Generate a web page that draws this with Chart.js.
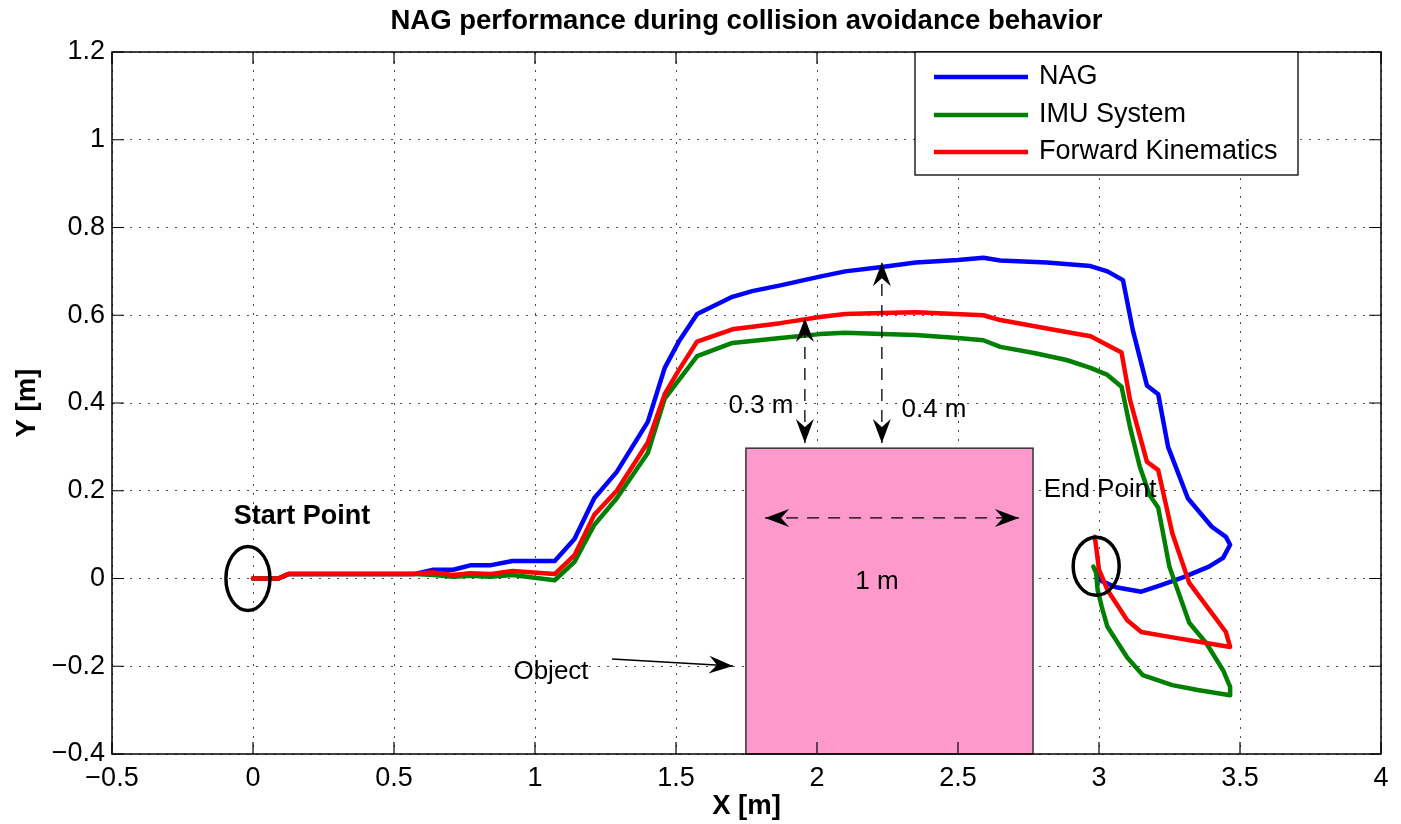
<!DOCTYPE html>
<html>
<head>
<meta charset="utf-8">
<script src="https://cdn.jsdelivr.net/npm/chart.js@4/dist/chart.umd.min.js"></script>
<style>
  body { margin: 0; background: #fff; }
  canvas { display: block; }
</style>
</head>
<body>
<canvas id="traj" width="1401" height="824"></canvas>
<script>
// axis ticks
const xTicks = [-0.5, 0, 0.5, 1, 1.5, 2, 2.5, 3, 3.5, 4];
const xTickLabels = ["\u22120.5", "0", "0.5", "1", "1.5", "2", "2.5", "3", "3.5", "4"];
const yTicks = [-0.4, -0.2, 0, 0.2, 0.4, 0.6, 0.8, 1, 1.2];
const yTickLabels = ["\u22120.4", "\u22120.2", "0", "0.2", "0.4", "0.6", "0.8", "1", "1.2"];

const seriesNames = ["NAG", "IMU System", "Forward Kinematics"];

// NAG trajectory
const nagX = [0, 0.09, 0.125, 0.57, 0.64, 0.71, 0.77, 0.84, 0.92, 1.07, 1.14, 1.21, 1.29, 1.40, 1.46, 1.51, 1.575, 1.70, 1.77, 1.87, 2.01, 2.10, 2.23, 2.35, 2.50, 2.59, 2.65, 2.815, 2.97, 3.03, 3.085, 3.12, 3.17, 3.21, 3.245, 3.315, 3.40, 3.45, 3.465, 3.44, 3.39, 3.30, 3.22, 3.15, 3.06, 3.00, 2.99];
const nagY = [0, 0, 0.01, 0.01, 0.02, 0.02, 0.03, 0.03, 0.04, 0.04, 0.09, 0.183, 0.243, 0.357, 0.48, 0.54, 0.603, 0.642, 0.655, 0.668, 0.688, 0.70, 0.71, 0.72, 0.726, 0.731, 0.725, 0.72, 0.712, 0.70, 0.68, 0.566, 0.44, 0.42, 0.30, 0.183, 0.118, 0.095, 0.077, 0.047, 0.027, 0.003, -0.015, -0.03, -0.02, -0.003, 0.02];

// IMU trajectory
const imuX = [0, 0.09, 0.125, 0.57, 0.64, 0.71, 0.77, 0.84, 0.92, 1.07, 1.14, 1.21, 1.29, 1.40, 1.46, 1.51, 1.575, 1.70, 1.87, 2.01, 2.10, 2.23, 2.35, 2.50, 2.59, 2.65, 2.77, 2.885, 2.97, 3.03, 3.08, 3.11, 3.145, 3.18, 3.21, 3.25, 3.32, 3.38, 3.44, 3.465, 3.465, 3.35, 3.26, 3.155, 3.10, 3.03, 3.01, 2.995, 2.99, 2.98];
const imuY = [0, 0, 0.01, 0.01, 0.008, 0.004, 0.006, 0.004, 0.008, -0.004, 0.038, 0.122, 0.183, 0.286, 0.41, 0.452, 0.507, 0.537, 0.548, 0.557, 0.56, 0.557, 0.555, 0.548, 0.543, 0.528, 0.514, 0.498, 0.48, 0.464, 0.437, 0.345, 0.254, 0.19, 0.161, 0.026, -0.101, -0.147, -0.209, -0.247, -0.266, -0.254, -0.243, -0.22, -0.18, -0.11, -0.065, -0.026, 0.012, 0.027];

// forward kinematics trajectory
const fkX = [0, 0.09, 0.125, 0.57, 0.64, 0.71, 0.77, 0.84, 0.92, 1.07, 1.14, 1.21, 1.29, 1.40, 1.46, 1.51, 1.575, 1.70, 1.87, 2.01, 2.10, 2.23, 2.35, 2.59, 2.65, 2.85, 2.97, 3.08, 3.11, 3.17, 3.21, 3.26, 3.32, 3.40, 3.45, 3.465, 3.38, 3.25, 3.15, 3.10, 3.03, 3.00, 2.99, 2.985];
const fkY = [0, 0, 0.01, 0.01, 0.014, 0.008, 0.012, 0.01, 0.017, 0.01, 0.053, 0.145, 0.20, 0.31, 0.42, 0.475, 0.54, 0.568, 0.582, 0.596, 0.603, 0.605, 0.607, 0.60, 0.589, 0.566, 0.552, 0.515, 0.407, 0.266, 0.247, 0.103, -0.01, -0.079, -0.122, -0.156, -0.147, -0.133, -0.122, -0.095, -0.026, 0.02, 0.072, 0.095];

// obstacle box and marks, in data units
const objectBox = [1.748, 2.766, -0.4, 0.297];
const startMark = [-0.018, 0];
const endMark = [2.99, 0.028];

const FONT = "'Liberation Sans', Arial, Helvetica, sans-serif";
const colors = ["#0000ff", "#008000", "#ff0000"];

function pts(xs, ys) {
    return xs.map((x, i) => ({ x: x, y: ys[i] }));
}

function arrowHead(ctx, x1, y1, x2, y2) {
    // filled matlab style head pointing at x2,y2
    const a = Math.atan2(y2 - y1, x2 - x1);
    const len = 24, half = 9, back = 16;
    ctx.save();
    ctx.translate(x2, y2);
    ctx.rotate(a);
    ctx.beginPath();
    ctx.moveTo(0, 0);
    ctx.lineTo(-len, -half);
    ctx.lineTo(-back, 0);
    ctx.lineTo(-len, half);
    ctx.closePath();
    ctx.fill();
    ctx.restore();
}

function dashedArrow(ctx, x1, y1, x2, y2, both) {
    ctx.save();
    ctx.setLineDash([12, 9]);
    ctx.lineWidth = 1.3;
    ctx.beginPath();
    ctx.moveTo(x1, y1);
    ctx.lineTo(x2, y2);
    ctx.stroke();
    ctx.restore();
    arrowHead(ctx, x1, y1, x2, y2);
    if (both) arrowHead(ctx, x2, y2, x1, y1);
}

const decor = {
    id: "decor",
    beforeDatasetsDraw(chart) {
        const ctx = chart.ctx, xs = chart.scales.x, ys = chart.scales.y;
        const l = xs.getPixelForValue(objectBox[0]), r = xs.getPixelForValue(objectBox[1]);
        const b = ys.getPixelForValue(objectBox[2]), t = ys.getPixelForValue(objectBox[3]);
        ctx.save();
        ctx.fillStyle = "#ff99cc";
        ctx.fillRect(l, t, r - l, b - t);
        ctx.strokeStyle = "#333";
        ctx.lineWidth = 1.5;
        ctx.strokeRect(l, t, r - l, b - t);
        ctx.restore();
    },
    afterDatasetsDraw(chart) {
        const ctx = chart.ctx, xs = chart.scales.x, ys = chart.scales.y;
        const a = chart.chartArea;
        const px = v => xs.getPixelForValue(v), py = v => ys.getPixelForValue(v);
        ctx.save();
        ctx.strokeStyle = "#000";
        ctx.fillStyle = "#000";

        // frame and inward ticks
        ctx.lineWidth = 1.5;
        ctx.strokeRect(a.left, a.top, a.right - a.left, a.bottom - a.top);
        ctx.lineWidth = 1.2;
        ctx.beginPath();
        xTicks.forEach(v => {
            const x = px(v);
            ctx.moveTo(x, a.bottom); ctx.lineTo(x, a.bottom - 12);
            ctx.moveTo(x, a.top); ctx.lineTo(x, a.top + 12);
        });
        yTicks.forEach(v => {
            const y = py(v);
            ctx.moveTo(a.left, y); ctx.lineTo(a.left + 12, y);
            ctx.moveTo(a.right, y); ctx.lineTo(a.right - 12, y);
        });
        ctx.stroke();

        // start / end ellipses
        ctx.lineWidth = 3.5;
        ctx.beginPath();
        ctx.ellipse(px(startMark[0]), py(startMark[1]), 22, 32, 0, 0, Math.PI * 2);
        ctx.stroke();
        ctx.beginPath();
        ctx.ellipse(px(endMark[0]), py(endMark[1]), 23, 29, 0, 0, Math.PI * 2);
        ctx.stroke();

        // clearance arrows
        dashedArrow(ctx, px(1.957), py(0.309), px(1.957), py(0.594), true);
        dashedArrow(ctx, px(2.23), py(0.309), px(2.23), py(0.721), true);
        dashedArrow(ctx, px(1.816), py(0.138), px(2.716), py(0.138), true);

        // object pointer
        ctx.lineWidth = 1.3;
        ctx.beginPath();
        ctx.moveTo(612, 659);
        ctx.lineTo(733, 666);
        ctx.stroke();
        arrowHead(ctx, 612, 659, 733, 666);

        // labels
        ctx.textAlign = "center";
        ctx.textBaseline = "middle";
        ctx.font = "bold 27px " + FONT;
        ctx.fillText("Start Point", 302, 517);
        ctx.font = "26px " + FONT;
        ctx.fillText("End Point", 1100, 490);
        ctx.fillText("0.3 m", 761, 406);
        ctx.fillText("0.4 m", 934, 410);
        ctx.fillText("1 m", 877, 582);
        ctx.fillText("Object", 551, 672);

        // legend
        ctx.fillStyle = "#fff";
        ctx.fillRect(915, 52, 383, 123);
        ctx.lineWidth = 1.3;
        ctx.strokeRect(915, 52, 383, 123);
        ctx.textAlign = "left";
        ctx.font = "27px " + FONT;
        [77, 115, 152].forEach((y, i) => {
            ctx.strokeStyle = colors[i];
            ctx.lineWidth = 4.5;
            ctx.beginPath();
            ctx.moveTo(934, y);
            ctx.lineTo(1028, y);
            ctx.stroke();
            ctx.fillStyle = "#000";
            ctx.fillText(seriesNames[i], 1039, y);
        });

        // titles
        ctx.textAlign = "center";
        ctx.font = "bold 27.5px " + FONT;
        ctx.fillText("NAG performance during collision avoidance behavior", (a.left + a.right) / 2, 21);
        ctx.fillText("X [m]", (a.left + a.right) / 2, 806);
        ctx.translate(27, (a.top + a.bottom) / 2);
        ctx.rotate(-Math.PI / 2);
        ctx.fillText("Y [m]", 0, 0);
        ctx.restore();
    }
};

new Chart(document.getElementById("traj"), {
    type: "scatter",
    data: {
        datasets: [
            { label: seriesNames[0], data: pts(nagX, nagY), borderColor: colors[0], order: 2 },
            { label: seriesNames[1], data: pts(imuX, imuY), borderColor: colors[1], order: 1 },
            { label: seriesNames[2], data: pts(fkX, fkY), borderColor: colors[2], order: 0 }
        ].map(d => Object.assign(d, {
            showLine: true, borderWidth: 4.5, pointRadius: 0, tension: 0,
            borderJoinStyle: "round", borderCapStyle: "round"
        }))
    },
    options: {
        responsive: false,
        animation: false,
        layout: { padding: { top: 52, right: 20, left: 0, bottom: 0 } },
        plugins: { legend: { display: false }, tooltip: { enabled: false } },
        scales: {
            x: {
                type: "linear", min: -0.5, max: 4,
                afterBuildTicks: s => { s.ticks = xTicks.map(v => ({ value: v })); },
                afterFit: s => { s.height = 70; },
                ticks: {
                    callback: (v, i) => xTickLabels[i],
                    font: { family: FONT, size: 27 }, color: "#000", padding: 8, maxRotation: 0
                },
                grid: { color: "rgba(0,0,0,0.7)", lineWidth: 1, drawTicks: false },
                border: { display: false, dash: [2, 7] }
            },
            y: {
                type: "linear", min: -0.4, max: 1.2,
                afterBuildTicks: s => { s.ticks = yTicks.map(v => ({ value: v })); },
                afterFit: s => { s.width = 112; },
                ticks: {
                    callback: (v, i) => yTickLabels[i],
                    font: { family: FONT, size: 27 }, color: "#000", padding: 7
                },
                grid: { color: "rgba(0,0,0,0.7)", lineWidth: 1, drawTicks: false },
                border: { display: false, dash: [2, 7] }
            }
        }
    },
    plugins: [decor]
});
</script>
</body>
</html>
